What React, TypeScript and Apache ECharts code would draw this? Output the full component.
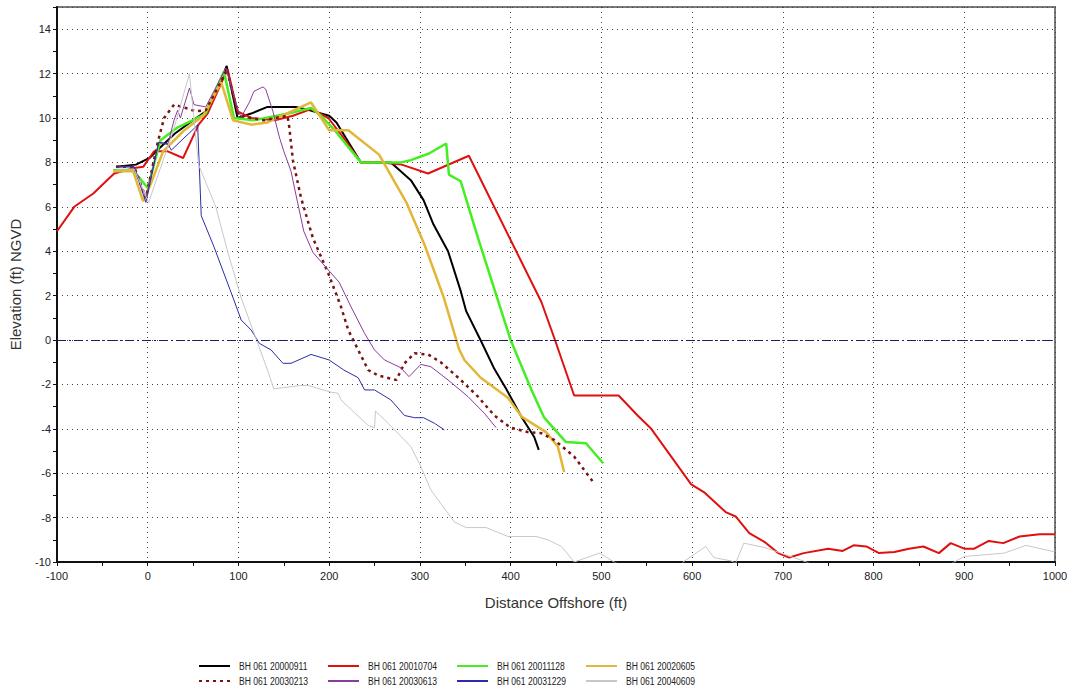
import React, { useEffect, useRef } from "react";
import * as echarts from "echarts";

const seriesNames = [
  "BH 061 20000911",
  "BH 061 20010704",
  "BH 061 20011128",
  "BH 061 20020605",
  "BH 061 20030213",
  "BH 061 20030613",
  "BH 061 20031229",
  "BH 061 20040609",
];

const s20000911 = [
  [-35, 7.8], [-13, 7.9], [2, 8.2], [12, 8.6], [30, 9.3], [50, 9.9], [64, 10.3], [76, 11.2], [87, 12.35],
  [99, 10.0], [114, 10.2], [132, 10.5], [163, 10.5], [174, 10.4], [191, 10.2], [200, 10.1], [208, 9.8],
  [235, 8.0], [268, 8.0], [290, 7.2], [304, 6.3], [315, 5.2], [331, 4.0], [345, 2.2], [351, 1.3], [368, -0.1],
  [382, -1.3], [395, -2.2], [400, -2.57], [412, -3.47], [426, -4.37], [431, -4.95],
];

const s20010704 = [
  [-100, 4.9], [-81, 6.0], [-60, 6.6], [-37, 7.5], [-15, 7.75], [-5, 7.8], [7, 8.5], [22, 8.5], [39, 8.2],
  [56, 9.7], [66, 10.2], [88, 12.2], [99, 10.3], [114, 10.0], [140, 9.9], [160, 10.1], [180, 10.4], [199, 10.0],
  [216, 9.1], [235, 8.0], [257, 8.0], [280, 7.9], [309, 7.5], [354, 8.3], [434, 1.7], [448, 0.1], [470, -2.5],
  [496, -2.5], [519, -2.5], [540, -3.4], [555, -4.0], [599, -6.5], [613, -6.85], [637, -7.75], [648, -7.95],
  [663, -8.7], [680, -9.1], [695, -9.6], [707, -9.8], [723, -9.6], [750, -9.4], [766, -9.5], [778, -9.25],
  [792, -9.3], [806, -9.6], [823, -9.55], [839, -9.4], [855, -9.3], [872, -9.6], [885, -9.15], [900, -9.4],
  [911, -9.4], [927, -9.05], [943, -9.15], [961, -8.85], [983, -8.75], [1000, -8.75],
];

const s20011128 = [
  [-38, 7.65], [-16, 7.65], [0, 6.85], [14, 9.0], [32, 9.55], [50, 9.9], [64, 10.2], [84, 12.1], [95, 10.0],
  [117, 9.9], [155, 10.2], [180, 10.45], [191, 10.1], [206, 9.45], [235, 8.0], [257, 8.0], [279, 8.0],
  [290, 8.1], [310, 8.4], [329, 8.85], [332, 7.45], [345, 7.15], [364, 4.6], [400, 0], [423, -2.25],
  [437, -3.5], [461, -4.6], [483, -4.65], [502, -5.55],
];

const s20020605 = [
  [-38, 7.6], [-16, 7.6], [-5, 6.25], [4, 7.1], [17, 8.5], [39, 9.4], [61, 10.1], [81, 11.6], [94, 9.9],
  [114, 9.7], [132, 9.8], [180, 10.7], [200, 9.45], [221, 9.45], [255, 8.35], [285, 6.2], [305, 4.3],
  [326, 1.95], [343, -0.4], [349, -0.9], [367, -1.7], [397, -2.6], [412, -3.45], [439, -4.15], [452, -4.8],
  [459, -5.95],
];

const s20030213 = [
  [-35, 7.8], [-15, 7.8], [-2, 6.4], [11, 8.9], [18, 10.0], [29, 10.6], [42, 10.45], [53, 10.3], [64, 10.35],
  [84, 11.9], [87, 12.2], [100, 10.1], [128, 9.9], [147, 10.05], [154, 10.1], [156, 9.6], [160, 8.1],
  [169, 6.4], [182, 4.6], [199, 3.0], [213, 1.5], [221, 0.45], [232, -0.45], [243, -1.35], [254, -1.6],
  [274, -1.8], [283, -1.05], [294, -0.6], [309, -0.65], [323, -1.0], [345, -1.8], [364, -2.55], [382, -3.4],
  [400, -3.95], [419, -4.15], [434, -4.2], [448, -4.5], [470, -5.25], [491, -6.4],
];

const s20030613 = [
  [-35, 7.8], [-15, 7.8], [-2, 6.4], [12, 8.9], [22, 8.8], [29, 9.9], [33, 10.35], [36, 10.0], [46, 11.35],
  [51, 10.6], [64, 10.5], [86, 12.25], [100, 10.3], [103, 10.05], [112, 10.7], [117, 11.2], [127, 11.4],
  [130, 11.3], [138, 10.3], [145, 9.15], [150, 8.5], [158, 7.6], [162, 6.8], [172, 4.9], [182, 3.95],
  [197, 3.25], [211, 2.6], [224, 1.5], [239, 0.3], [250, -0.45], [261, -0.9], [279, -1.25], [288, -1.65],
  [301, -1.1], [312, -1.2], [331, -1.8], [353, -2.55], [371, -3.3], [384, -3.95],
];

const s20031229 = [
  [-35, 7.8], [-15, 7.8], [-2, 6.2], [12, 8.9], [22, 8.85], [26, 8.55], [40, 9.1], [53, 9.6], [55, 9.7],
  [59, 5.6], [73, 4.2], [95, 1.8], [103, 0.9], [114, 0.45], [123, -0.15], [136, -0.45], [149, -1.05],
  [158, -1.05], [180, -0.65], [200, -0.9], [216, -1.35], [232, -1.7], [239, -2.25], [250, -2.25],
  [268, -2.7], [283, -3.4], [294, -3.5], [304, -3.5], [316, -3.75], [327, -4.05],
];

const s20040609 = [
  [-35, 7.7], [-15, 7.7], [1, 6.2], [28, 9.4], [46, 12.0], [56, 7.9], [75, 6.0], [88, 4.0], [103, 1.9],
  [119, 0.1], [132, -1.35], [139, -2.2], [169, -2.05], [177, -2.05], [202, -2.35], [210, -2.4], [213, -2.7],
  [243, -3.85], [250, -3.95], [251, -3.2], [265, -3.75], [290, -4.8], [301, -5.7], [312, -6.75], [338, -8.2],
  [351, -8.45], [373, -8.45], [397, -8.85], [428, -8.85], [441, -9.0], [456, -9.3], [470, -10.0], [498, -9.6],
  [514, -10.0], [540, -10.5], [580, -10.5], [590, -10.0], [615, -9.3], [624, -9.8], [643, -9.95], [648, -10.05],
  [657, -9.15], [680, -9.35], [698, -9.6], [726, -10.0], [760, -10.6], [860, -10.6], [889, -10.0], [900, -9.75],
  [944, -9.6], [968, -9.25], [1000, -9.55],
];

const seriesData = [s20000911, s20010704, s20011128, s20020605, s20030213, s20030613, s20031229, s20040609];
const seriesColors = ["#000000", "#e01010", "#44ee22", "#e2b636", "#7a1212", "#8a3c9c", "#2c2ca8", "#c8c8c8"];
const seriesWidths = [2, 2, 2.5, 2.5, 2.5, 1, 1, 1];
const seriesTypes: any[] = ["solid", "solid", "solid", "solid", [3, 4], "solid", "solid", "solid"];

const xTicks = { min: -100, max: 1000, interval: 100 };
const yTicks = { min: -10, max: 15, interval: 2 };

const legendPos = [
  [198, 659], [327, 659], [456, 659], [585, 659],
  [198, 674], [327, 674], [456, 674], [585, 674],
];

const FONT = "'Liberation Sans', Arial, sans-serif";

export default function App() {
  const ref = useRef<HTMLDivElement>(null);
  useEffect(() => {
    if (!ref.current) return;
    const chart = echarts.init(ref.current, null, { renderer: "svg" });
    const series: any[] = seriesNames.map((name, i) => ({
      name,
      type: "line",
      data: seriesData[i],
      showSymbol: false,
      symbol: "none",
      clip: true,
      lineStyle: { color: seriesColors[i], width: seriesWidths[i], type: seriesTypes[i] },
      itemStyle: { color: seriesColors[i] },
      z: 3,
      ...(i === 0
        ? {
            markLine: {
              silent: true,
              symbol: ["none", "none"],
              label: { show: false },
              lineStyle: { color: "#1c1c5c", width: 1, type: [9, 3, 2, 3] },
              data: [{ yAxis: 0 }],
              animation: false,
            },
          }
        : {}),
    }));
    const legends = seriesNames.map((name, i) => ({
      data: [name],
      left: legendPos[i][0],
      top: legendPos[i][1],
      orient: "horizontal",
      itemWidth: 31,
      itemHeight: 14,
      padding: 0,
      selectedMode: false,
      itemStyle: { opacity: 0 },
      formatter: () => "",
      textStyle: { fontSize: 11 },
    }));
    const legendTexts = seriesNames.map((name, i) => ({
      type: "text",
      x: legendPos[i][0] + 41,
      y: legendPos[i][1] + 7,
      scaleX: 0.78,
      silent: true,
      style: {
        text: name,
        fontFamily: FONT,
        fontSize: 11,
        fill: "#222",
        textVerticalAlign: "middle",
        verticalAlign: "middle",
        textAlign: "left",
      },
    }));
    chart.setOption({
      animation: false,
      backgroundColor: "#ffffff",
      grid: {
        left: 56,
        top: 7,
        right: 18,
        bottom: 130,
        show: true,
        borderColor: "#7a7a7a",
        borderWidth: 2,
        backgroundColor: "#ffffff",
      },
      legend: legends,
      graphic: legendTexts,
      xAxis: {
        type: "value",
        min: xTicks.min,
        max: xTicks.max,
        interval: xTicks.interval,
        name: "Distance Offshore (ft)",
        nameLocation: "middle",
        nameGap: 33,
        nameTextStyle: { fontFamily: FONT, fontSize: 15, color: "#333" },
        axisLine: { onZero: false, lineStyle: { color: "#111", width: 2 } },
        axisTick: { show: true, inside: false, length: 4, lineStyle: { color: "#111" } },
        minorTick: { show: true, splitNumber: 2, length: 4, lineStyle: { color: "#111" } },
        axisLabel: { fontFamily: FONT, fontSize: 11, color: "#222", margin: 8, formatter: (v: number) => String(v) },
        splitLine: { show: true, lineStyle: { color: "#444", width: 1, type: [1, 4] } },
      },
      yAxis: {
        type: "value",
        min: yTicks.min,
        max: yTicks.max,
        interval: yTicks.interval,
        name: "Elevation (ft) NGVD",
        nameLocation: "middle",
        nameGap: 34,
        nameTextStyle: { fontFamily: FONT, fontSize: 15, color: "#333" },
        axisLine: { onZero: false, lineStyle: { color: "#111", width: 2 } },
        axisTick: { show: true, inside: false, length: 4, lineStyle: { color: "#111" } },
        minorTick: { show: true, splitNumber: 2, length: 4, lineStyle: { color: "#111" } },
        axisLabel: { fontFamily: FONT, fontSize: 11, color: "#222", margin: 6, showMaxLabel: false, formatter: (v: number) => String(v) },
        splitLine: { show: true, lineStyle: { color: "#444", width: 1, type: [1, 4] } },
      },
      series,
    });
    return () => chart.dispose();
  }, []);
  return (
    <div
      ref={ref}
      style={{ position: "fixed", left: 0, top: 0, width: 1073, height: 692, background: "#fff" }}
    />
  );
}
